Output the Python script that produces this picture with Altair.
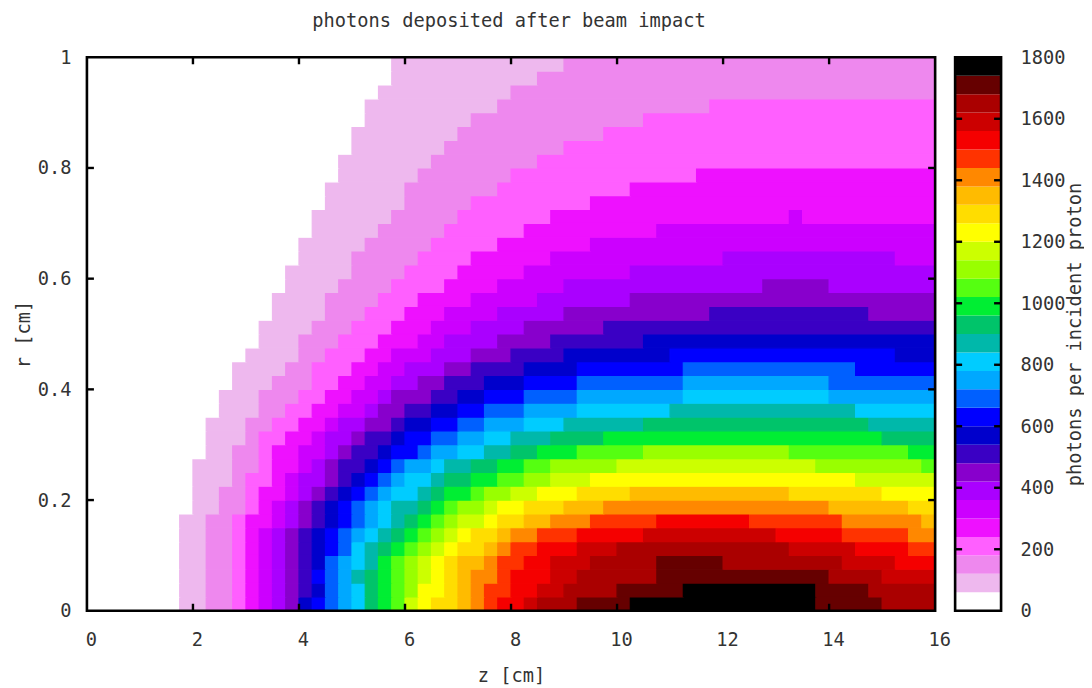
import altair as alt
import pandas as pd

TITLE = "photons deposited after beam impact"
FONT = "DejaVu Sans Mono"
TXT = "#333333"
LEVEL_STEP = 60
N_COLS = 64
N_ROWS = 40
DZ = 0.25
DR = 0.025

COLORS = ["#ffffff", "#eeb8ee", "#ee88ee", "#ff5fff", "#ee11ff", "#cc00ff", "#aa00ff", "#8800cc",
          "#3a00c4", "#0000cc", "#0000ff", "#0060ff", "#00a8ff", "#00ccff", "#00b8aa", "#00c46a",
          "#00ee33", "#55ff11", "#99ff00", "#ccff00", "#ffff00", "#ffdd00", "#ffbb00", "#ff8800",
          "#ff3300", "#f50000", "#cc0000", "#aa0000", "#660000", "#000000"]

# each row (r = 0 upwards): (level, first column) runs
ROWS = [
 [(0,0),(1,7),(2,9),(3,11),(4,12),(5,13),(6,14),(7,15),(9,16),(10,17),(11,18),(12,19),(13,20),(15,21),(16,22),(17,23),(19,24),(20,25),(21,26),(22,28),(23,29),(24,30),(25,31),(26,33),(27,34),(28,37),(29,41),(28,55),(27,60)],
 [(0,0),(1,7),(2,9),(3,11),(4,12),(5,13),(6,14),(7,15),(8,16),(9,17),(11,18),(12,19),(13,20),(15,21),(16,22),(17,23),(18,24),(20,25),(21,27),(22,28),(23,29),(24,30),(25,32),(26,34),(27,36),(28,40),(29,45),(28,55),(27,59)],
 [(0,0),(1,7),(2,9),(3,11),(4,12),(5,13),(6,14),(7,15),(8,16),(10,17),(11,18),(12,19),(14,20),(15,21),(16,22),(17,23),(18,24),(19,25),(20,26),(21,27),(22,28),(23,29),(24,31),(25,32),(26,35),(27,37),(28,43),(27,56),(26,60)],
 [(0,0),(1,7),(2,9),(3,11),(4,12),(5,13),(6,14),(7,15),(8,16),(9,17),(11,18),(12,19),(13,20),(14,21),(16,22),(17,23),(18,24),(19,25),(20,26),(21,27),(22,28),(23,30),(24,31),(25,33),(26,35),(27,38),(28,43),(27,48),(26,57),(25,61)],
 [(0,0),(1,7),(2,9),(3,11),(4,12),(5,13),(6,14),(7,15),(8,16),(9,17),(10,18),(11,19),(13,20),(14,21),(15,22),(16,23),(17,24),(18,25),(19,26),(20,27),(21,28),(22,30),(23,31),(24,32),(25,34),(26,37),(27,40),(26,53),(25,58),(24,62)],
 [(0,0),(1,7),(2,9),(3,11),(4,12),(5,13),(6,14),(7,15),(8,16),(9,17),(10,18),(11,19),(12,20),(13,21),(14,22),(15,23),(16,24),(17,25),(18,26),(19,27),(20,28),(21,29),(22,31),(23,32),(24,34),(25,37),(26,42),(25,52),(24,57),(23,62)],
 [(0,0),(1,7),(2,9),(3,11),(4,12),(5,14),(6,15),(7,16),(8,17),(9,18),(10,19),(11,20),(12,21),(13,22),(14,23),(15,24),(16,25),(17,26),(18,27),(19,28),(20,30),(21,31),(22,33),(23,35),(24,38),(25,43),(24,50),(23,57),(22,63)],
 [(0,0),(1,8),(2,10),(3,12),(4,13),(5,14),(6,15),(7,16),(8,17),(9,18),(10,19),(11,20),(12,21),(13,22),(14,23),(15,25),(16,26),(17,27),(18,28),(19,30),(20,31),(21,33),(22,36),(23,39),(22,56),(21,62)],
 [(0,0),(1,8),(2,10),(3,12),(4,13),(5,15),(6,16),(7,17),(8,18),(9,19),(10,20),(11,21),(12,22),(13,23),(14,25),(15,26),(16,27),(17,29),(18,30),(19,32),(20,34),(21,37),(22,41),(21,53),(20,60)],
 [(0,0),(1,8),(2,11),(3,12),(4,14),(5,15),(6,16),(7,18),(8,19),(9,20),(10,21),(11,22),(12,23),(13,24),(14,26),(15,27),(16,29),(17,31),(18,33),(19,35),(20,38),(19,58)],
 [(0,0),(1,8),(2,11),(3,13),(4,14),(5,16),(6,17),(7,18),(8,19),(9,21),(10,22),(11,23),(12,24),(13,26),(14,27),(15,29),(16,31),(17,33),(18,35),(19,40),(18,55),(17,63)],
 [(0,0),(1,9),(2,11),(3,13),(4,14),(5,16),(6,18),(7,19),(8,20),(9,22),(10,23),(11,25),(12,26),(13,28),(14,30),(15,32),(16,34),(17,37),(18,42),(17,53),(16,62)],
 [(0,0),(1,9),(2,12),(3,13),(4,15),(5,17),(6,18),(7,20),(8,21),(9,23),(10,24),(11,26),(12,28),(13,30),(14,32),(15,35),(16,39),(15,60)],
 [(0,0),(1,9),(2,12),(3,14),(4,16),(5,18),(6,19),(7,21),(8,23),(9,24),(10,26),(11,28),(12,30),(13,33),(14,36),(15,42),(14,59)],
 [(0,0),(1,10),(2,13),(3,15),(4,17),(5,19),(6,21),(7,22),(8,24),(9,26),(10,28),(11,30),(12,33),(13,37),(14,44),(13,58)],
 [(0,0),(1,10),(2,13),(3,16),(4,18),(5,20),(6,22),(7,23),(8,26),(9,28),(10,30),(11,33),(12,37),(13,45),(12,56)],
 [(0,0),(1,11),(2,14),(3,17),(4,19),(5,21),(6,23),(7,25),(8,27),(9,30),(10,33),(11,37),(12,45),(11,56)],
 [(0,0),(1,11),(2,15),(3,17),(4,20),(5,22),(6,24),(7,27),(8,29),(9,33),(10,37),(11,45),(10,58)],
 [(0,0),(1,12),(2,16),(3,18),(4,21),(5,23),(6,26),(7,29),(8,32),(9,36),(10,44),(9,61)],
 [(0,0),(1,13),(2,16),(3,19),(4,22),(5,25),(6,27),(7,31),(8,35),(9,42)],
 [(0,0),(1,13),(2,17),(3,20),(4,23),(5,26),(6,29),(7,33),(8,39)],
 [(0,0),(1,14),(2,18),(3,21),(4,24),(5,27),(6,31),(7,36),(8,47),(7,59)],
 [(0,0),(1,14),(2,18),(3,22),(4,25),(5,29),(6,34),(7,41)],
 [(0,0),(1,15),(2,19),(3,23),(4,27),(5,31),(6,36),(7,51),(6,56)],
 [(0,0),(1,15),(2,20),(3,24),(4,28),(5,33),(6,41)],
 [(0,0),(1,16),(2,20),(3,25),(4,29),(5,35),(6,48),(5,61)],
 [(0,0),(1,16),(2,21),(3,26),(4,31),(5,38)],
 [(0,0),(1,17),(2,22),(3,27),(4,33),(5,43)],
 [(0,0),(1,17),(2,23),(3,28),(4,35),(5,53),(4,54)],
 [(0,0),(1,18),(2,24),(3,29),(4,38)],
 [(0,0),(1,18),(2,24),(3,31),(4,41)],
 [(0,0),(1,19),(2,25),(3,32),(4,46)],
 [(0,0),(1,19),(2,26),(3,34)],
 [(0,0),(1,20),(2,27),(3,36)],
 [(0,0),(1,20),(2,28),(3,39)],
 [(0,0),(1,21),(2,29),(3,42)],
 [(0,0),(1,21),(2,31),(3,47)],
 [(0,0),(1,22),(2,32)],
 [(0,0),(1,23),(2,34)],
 [(0,0),(1,23),(2,36)],
]

Z_TICKS = [0, 2, 4, 6, 8, 10, 12, 14, 16]
R_TICKS = [0, 0.2, 0.4, 0.6, 0.8, 1]
CB_TICKS = [200, 400, 600, 800, 1000, 1200, 1400, 1600]
CB_LABELS = [0, 200, 400, 600, 800, 1000, 1200, 1400, 1600, 1800]

W, H, CBW = 849, 554, 46
TICK = 7

records = []
for r, runs in enumerate(ROWS):
    for i, (lev, start) in enumerate(runs):
        end = runs[i + 1][1] if i + 1 < len(runs) else N_COLS
        records.append({"z0": start * DZ, "z1": end * DZ, "r0": r * DR, "r1": (r + 1) * DR,
                        "photons": lev * LEVEL_STEP + LEVEL_STEP / 2})
cells = pd.DataFrame(records)
bands = pd.DataFrame([{"v0": i * LEVEL_STEP, "v1": (i + 1) * LEVEL_STEP,
                       "photons": i * LEVEL_STEP + LEVEL_STEP / 2} for i in range(len(COLORS))])

thresholds = [LEVEL_STEP * i for i in range(1, len(COLORS))]
col_scale = alt.Scale(type="threshold", domain=thresholds, range=COLORS)
xs = alt.Scale(domain=[0, 16], nice=False, zero=False)
ys = alt.Scale(domain=[0, 1], nice=False, zero=False)
cs = alt.Scale(domain=[0, 1800], nice=False, zero=False)

axis_common = dict(domain=False, ticks=False, grid=False, labelFont=FONT, titleFont=FONT,
                   labelFontSize=18.7, titleFontSize=18.7, labelColor=TXT, titleColor=TXT,
                   titleFontWeight="normal", labelFlush=False)
x_axis = alt.Axis(values=Z_TICKS, labelOffset=4, labelPadding=20, titlePadding=17, **axis_common)
y_axis = alt.Axis(values=R_TICKS, format="~g", labelPadding=16, titlePadding=4, **axis_common)
c_axis = alt.Axis(orient="right", values=CB_LABELS, format="d", labelPadding=19, titlePadding=0,
                  titleAngle=270, titleBaseline="top", **axis_common)
X_TITLE, Y_TITLE, C_TITLE = "z [cm]", "r [cm]", "photons per incident proton"

heat = alt.Chart(cells).mark_rect(strokeWidth=1.2).encode(
    x=alt.X("z0:Q", scale=xs, title=X_TITLE, axis=x_axis),
    x2="z1:Q",
    y=alt.Y("r0:Q", scale=ys, title=Y_TITLE, axis=y_axis),
    y2="r1:Q",
    color=alt.Color("photons:Q", scale=col_scale, legend=None),
    stroke=alt.Stroke("photons:Q", scale=col_scale, legend=None),
)

zt = pd.DataFrame({"t": Z_TICKS[1:-1]})
rt = pd.DataFrame({"t": R_TICKS[1:-1]})
tick_kw = dict(color="black", strokeWidth=2.4)
xt = alt.X("t:Q", scale=xs, title=X_TITLE, axis=x_axis)
yt = alt.Y("t:Q", scale=ys, title=Y_TITLE, axis=y_axis)
z_bot = alt.Chart(zt).mark_rule(**tick_kw).encode(x=xt, y=alt.value(H), y2=alt.value(H - TICK))
z_top = alt.Chart(zt).mark_rule(**tick_kw).encode(x=xt, y=alt.value(0), y2=alt.value(TICK))
r_left = alt.Chart(rt).mark_rule(**tick_kw).encode(y=yt, x=alt.value(0), x2=alt.value(TICK))
r_right = alt.Chart(rt).mark_rule(**tick_kw).encode(y=yt, x=alt.value(W), x2=alt.value(W - TICK))
frame = alt.Chart(pd.DataFrame({"a": [0]})).mark_rect(filled=False, stroke="black", strokeWidth=2.6).encode(
    x=alt.value(0), x2=alt.value(W), y=alt.value(0), y2=alt.value(H))

main = alt.layer(heat, z_bot, z_top, r_left, r_right, frame).properties(
    width=W, height=H,
    title=alt.TitleParams(TITLE, font=FONT, fontSize=18.7, fontWeight="normal", color=TXT, anchor="middle", offset=18, dx=-2),
)

bar = alt.Chart(bands).mark_rect().encode(
    x=alt.value(0), x2=alt.value(CBW),
    y=alt.Y("v0:Q", scale=cs, title=C_TITLE, axis=c_axis),
    y2="v1:Q",
    color=alt.Color("photons:Q", scale=col_scale, legend=None),
)
ct = pd.DataFrame({"t": CB_TICKS})
yc = alt.Y("t:Q", scale=cs, title=C_TITLE, axis=c_axis)
cb_l = alt.Chart(ct).mark_rule(**tick_kw).encode(y=yc, x=alt.value(0), x2=alt.value(TICK))
cb_r = alt.Chart(ct).mark_rule(**tick_kw).encode(y=yc, x=alt.value(CBW), x2=alt.value(CBW - TICK))
cb_frame = alt.Chart(pd.DataFrame({"a": [0]})).mark_rect(filled=False, stroke="black", strokeWidth=2.6).encode(
    x=alt.value(0), x2=alt.value(CBW), y=alt.value(0), y2=alt.value(H))
cbar = alt.layer(bar, cb_l, cb_r, cb_frame).properties(width=CBW, height=H)

chart = alt.hconcat(main, cbar, spacing=2).properties(
    padding={"left": 6, "top": 3, "right": 0, "bottom": 0}, background="white"
).configure_view(stroke=None)

chart.save("out.html", embed_options={"renderer": "svg", "actions": False})
